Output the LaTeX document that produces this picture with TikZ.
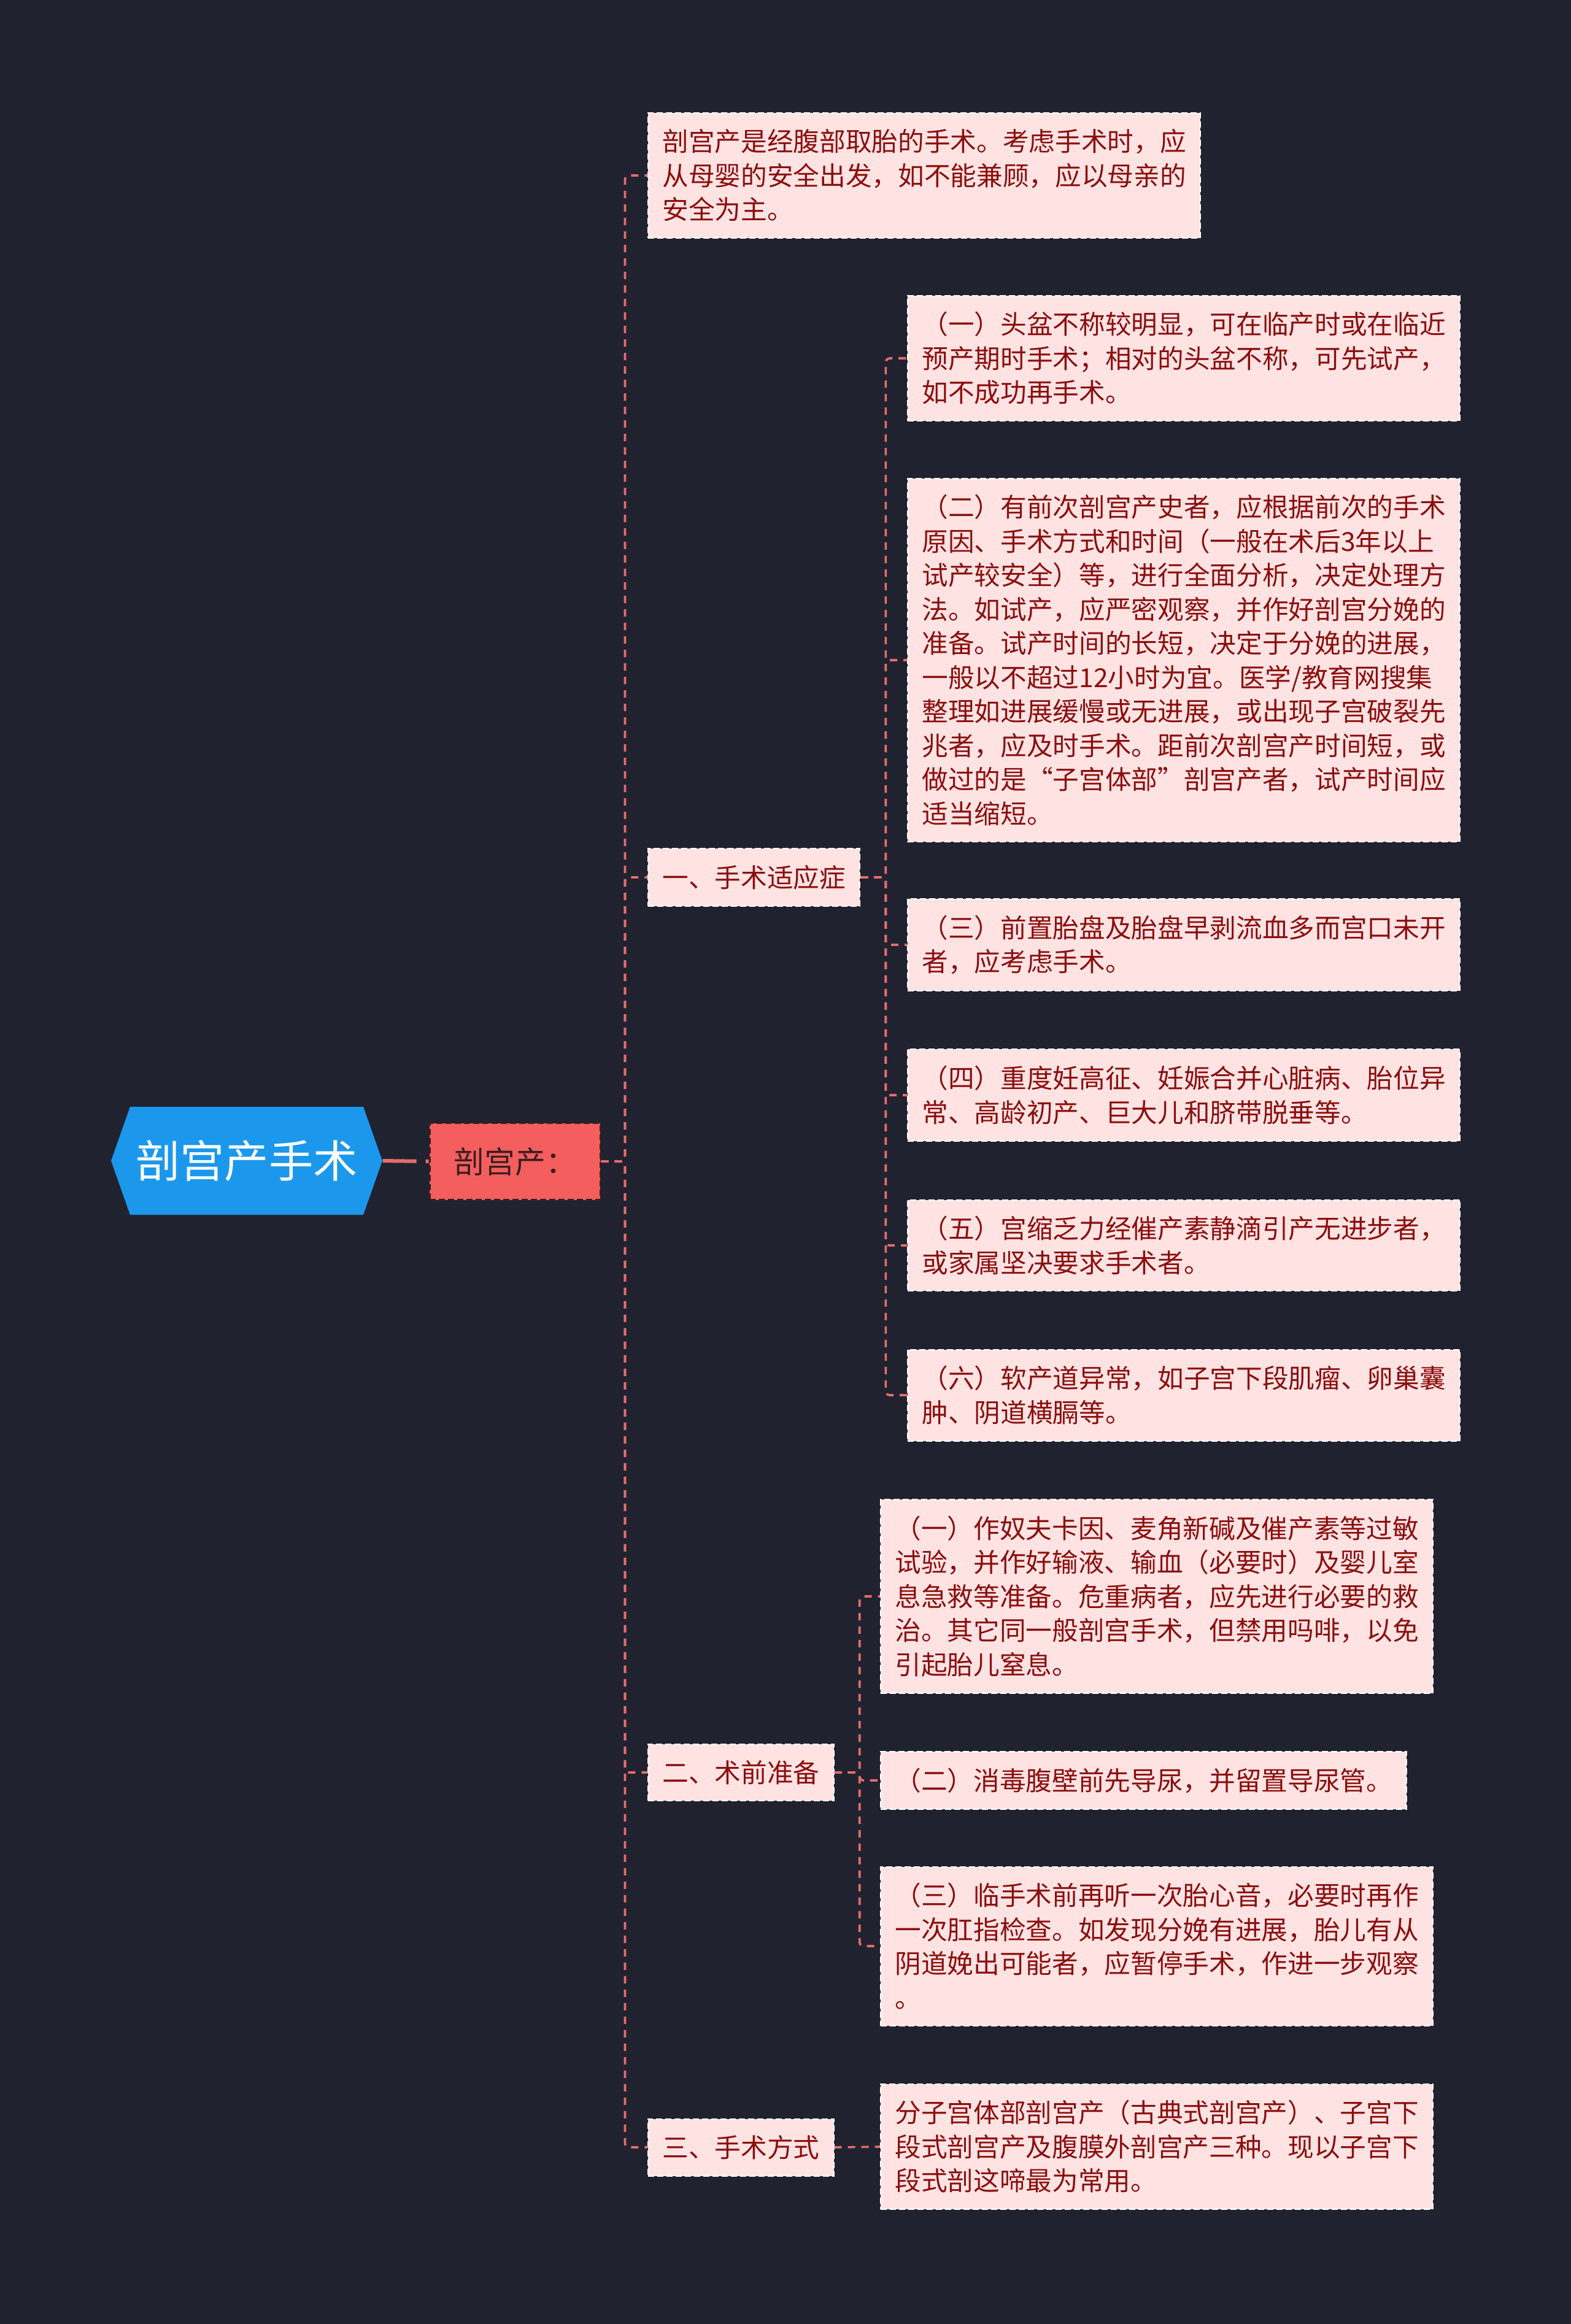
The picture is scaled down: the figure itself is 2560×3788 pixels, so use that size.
\documentclass[tikz,border=0pt]{standalone}
\usepackage{fontspec}
\usepackage{tikz}
\usetikzlibrary{positioning}
\newfontfamily\cjk{Noto Sans CJK SC}
\definecolor{bgdark}{RGB}{32,35,47}
\definecolor{rootblue}{RGB}{27,152,235}
\definecolor{redbox}{RGB}{245,94,94}
\definecolor{redtext}{RGB}{58,30,30}
\definecolor{leafpink}{RGB}{255,227,227}
\definecolor{leaftext}{RGB}{139,14,14}
\definecolor{linkred}{RGB}{230,108,108}

\begin{document}
\begin{tikzpicture}[x=0.3pt,y=-0.3pt,
  leaf/.style={draw=white,line width=0.6pt,dash pattern=on 3pt off 1.5pt,fill=leafpink,text=leaftext,
    font=\cjk\fontsize{12.8pt}{16.65pt}\selectfont,align=left,inner xsep=7pt,inner ysep=8pt,anchor=west},
  wide/.style={text width=256pt},
  link/.style={draw=linkred,line width=1.1pt,dash pattern=on 3.6pt off 3pt,rounded corners=2pt}]
  \fill[bgdark] (0,0) rectangle (2560,3788);
  % root and first level
  \fill[rootblue] (181,1892) -- (212,1804) -- (592,1804) -- (623,1892) -- (592,1980) -- (212,1980) -- cycle;
  \node[text=white,font=\cjk\fontsize{21.7pt}{26pt}\selectfont,minimum width=132.6pt,minimum height=52.8pt,inner sep=0pt] (root) at (402,1892) {剖宫产手术};
  \node[draw=redtext,line width=0.9pt,dash pattern=on 3pt off 1.5pt,fill=redbox,text=redtext,
    font=\cjk\fontsize{15pt}{18pt}\selectfont,minimum width=83.4pt,minimum height=37.5pt] (cs) at (839,1893) {剖宫产：};
  \draw[link,line width=1.8pt,dash pattern=on 16.5pt off 4.5pt,rounded corners=0pt] (root.east) -- (cs.west);

  \node[leaf,wide] (intro) at (1055,286)
    {剖宫产是经腹部取胎的手术。考虑手术时，应\\从母婴的安全出发，如不能兼顾，应以母亲的\\安全为主。};
  \node[leaf] (indic) at (1055,1430) {一、手术适应症};
  \node[leaf] (prep) at (1055,2889) {二、术前准备};
  \node[leaf] (method) at (1055,3500) {三、手术方式};
  \foreach \n in {intro,indic,prep,method}
    \draw[link] (cs.east) -- ++(39,0) |- (\n.west);

  % indications
  \node[leaf,wide] (ind1) at (1478,584)
    {（一）头盆不称较明显，可在临产时或在临近\\预产期时手术；相对的头盆不称，可先试产，\\如不成功再手术。};
  \node[leaf,wide] (ind2) at (1478,1076)
    {（二）有前次剖宫产史者，应根据前次的手术\\原因、手术方式和时间（一般在术后3年以上\\试产较安全）等，进行全面分析，决定处理方\\法。如试产，应严密观察，并作好剖宫分娩的\\准备。试产时间的长短，决定于分娩的进展，\\一般以不超过12小时为宜。医学/教育网搜集\\整理如进展缓慢或无进展，或出现子宫破裂先\\兆者，应及时手术。距前次剖宫产时间短，或\\做过的是“子宫体部”剖宫产者，试产时间应\\适当缩短。};
  \node[leaf,wide] (ind3) at (1478,1540)
    {（三）前置胎盘及胎盘早剥流血多而宫口未开\\者，应考虑手术。};
  \node[leaf,wide] (ind4) at (1478,1785)
    {（四）重度妊高征、妊娠合并心脏病、胎位异\\常、高龄初产、巨大儿和脐带脱垂等。};
  \node[leaf,wide] (ind5) at (1478,2030)
    {（五）宫缩乏力经催产素静滴引产无进步者，\\或家属坚决要求手术者。};
  \node[leaf,wide] (ind6) at (1478,2274)
    {（六）软产道异常，如子宫下段肌瘤、卵巢囊\\肿、阴道横膈等。};
  \foreach \n in {ind1,ind2,ind3,ind4,ind5,ind6}
    \draw[link] (indic.east) -- ++(41,0) |- (\n.west);

  % preparation
  \node[leaf,wide] (prep1) at (1434,2602)
    {（一）作奴夫卡因、麦角新碱及催产素等过敏\\试验，并作好输液、输血（必要时）及婴儿室\\息急救等准备。危重病者，应先进行必要的救\\治。其它同一般剖宫手术，但禁用吗啡，以免\\引起胎儿窒息。};
  \node[leaf] (prep2) at (1434,2902) {（二）消毒腹壁前先导尿，并留置导尿管。};
  \node[leaf,wide] (prep3) at (1434,3172)
    {（三）临手术前再听一次胎心音，必要时再作\\一次肛指检查。如发现分娩有进展，胎儿有从\\阴道娩出可能者，应暂停手术，作进一步观察\\。};
  \foreach \n in {prep1,prep2,prep3}
    \draw[link] (prep.east) -- ++(41,0) |- (\n.west);

  % method
  \node[leaf,wide] (meth1) at (1434,3499)
    {分子宫体部剖宫产（古典式剖宫产）、子宫下\\段式剖宫产及腹膜外剖宫产三种。现以子宫下\\段式剖这啼最为常用。};
  \draw[link] (method.east) -- (meth1.west);
\end{tikzpicture}
\end{document}
